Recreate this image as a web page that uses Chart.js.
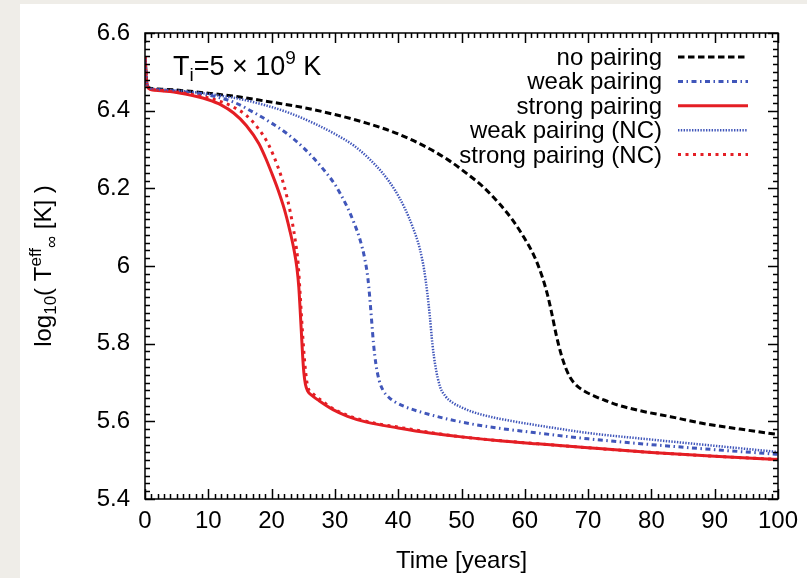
<!DOCTYPE html>
<html>
<head>
<meta charset="utf-8">
<script src="https://cdn.jsdelivr.net/npm/chart.js@4.4.1/dist/chart.umd.min.js"></script>
<style>
  html, body { margin: 0; padding: 0; background: #efede8; }
  canvas { display: block; }
</style>
</head>
<body>
<canvas id="myChart" width="807" height="578"></canvas>
<script>
// cooling curves
var noPairingTime = [0, 0.3, 0.8, 2, 5, 10, 15, 20, 25, 30, 35, 40, 44, 48, 51, 53.4, 56, 58, 60, 61.5, 62.7, 63.6, 64.3, 65, 65.7, 66.4, 67.2, 68.2, 69.5, 71, 72.5, 74.7, 78, 83, 88, 94, 100];
var noPairingTemp = [6.54, 6.47, 6.458, 6.456, 6.453, 6.445, 6.435, 6.422, 6.408, 6.39, 6.368, 6.34, 6.31, 6.272, 6.236, 6.204, 6.16, 6.12, 6.07, 6.025, 5.975, 5.925, 5.875, 5.82, 5.775, 5.74, 5.712, 5.692, 5.677, 5.665, 5.655, 5.642, 5.628, 5.612, 5.595, 5.58, 5.566];

var weakTime = [0, 0.3, 0.8, 2, 5, 10, 14, 17, 20, 22.5, 25, 27.5, 30, 31, 32, 33, 34, 34.7, 35.2, 35.5, 35.8, 36.1, 36.5, 37, 37.6, 38.5, 39.5, 41, 44, 48, 52, 56, 62, 70, 80, 90, 100];
var weakTemp = [6.54, 6.47, 6.457, 6.454, 6.45, 6.44, 6.422, 6.397, 6.368, 6.34, 6.305, 6.262, 6.21, 6.182, 6.15, 6.112, 6.066, 6.02, 5.97, 5.92, 5.86, 5.80, 5.745, 5.705, 5.68, 5.662, 5.65, 5.638, 5.622, 5.605, 5.592, 5.582, 5.57, 5.555, 5.54, 5.527, 5.515];

var strongTime = [0, 0.3, 0.8, 2, 5, 8, 10, 12, 14, 16, 18, 19, 20, 21, 22, 22.9, 23.5, 24, 24.3, 24.5, 24.7, 24.9, 25.1, 25.35, 25.7, 26.5, 27.5, 29.7, 32, 35, 40, 45, 50, 56, 62, 70, 80, 90, 100];
var strongTemp = [6.54, 6.47, 6.455, 6.452, 6.447, 6.437, 6.428, 6.415, 6.394, 6.362, 6.315, 6.28, 6.24, 6.197, 6.147, 6.09, 6.045, 5.995, 5.945, 5.89, 5.83, 5.77, 5.725, 5.695, 5.678, 5.665, 5.653, 5.63, 5.613, 5.598, 5.583, 5.57, 5.56, 5.55, 5.542, 5.532, 5.52, 5.51, 5.502];

var weakNCTime = [0, 0.3, 0.8, 2, 5, 10, 15, 19, 23, 27, 30, 33, 35.5, 37.5, 39.5, 41, 42.3, 43.4, 44.1, 44.6, 45, 45.4, 45.9, 46.6, 47.5, 48.7, 50, 51.8, 55.6, 60, 65, 70, 80, 90, 100];
var weakNCTemp = [6.54, 6.47, 6.458, 6.455, 6.452, 6.443, 6.43, 6.414, 6.393, 6.365, 6.34, 6.31, 6.275, 6.24, 6.195, 6.15, 6.10, 6.045, 5.99, 5.93, 5.87, 5.80, 5.74, 5.69, 5.664, 5.647, 5.636, 5.624, 5.608, 5.595, 5.582, 5.57, 5.553, 5.537, 5.521];

var strongNCTime = [0, 0.3, 0.8, 2, 5, 8, 10, 12, 14, 16, 18, 19.5, 21, 22, 23, 23.7, 24.2, 24.5, 24.8, 25.1, 25.4, 25.7, 26.5, 28, 30, 35, 40, 50, 60, 70, 80, 90, 100];
var strongNCTemp = [6.54, 6.47, 6.456, 6.453, 6.448, 6.44, 6.433, 6.423, 6.409, 6.388, 6.352, 6.313, 6.255, 6.205, 6.135, 6.07, 6.005, 5.93, 5.85, 5.778, 5.724, 5.69, 5.672, 5.652, 5.63, 5.6, 5.585, 5.56, 5.545, 5.532, 5.52, 5.51, 5.502];

var seriesLabels = ['no pairing', 'weak pairing', 'strong pairing', 'weak pairing (NC)', 'strong pairing (NC)'];
var yTickLabels = ['5.4', '5.6', '5.8', '6', '6.2', '6.4', '6.6'];

var FONT = '"Liberation Sans", Arial, Helvetica, sans-serif';
var red = 'rgb(228,30,36)';
var blue = 'rgb(64,86,186)';

function points(xs, ys) {
    return xs.map(function (x, i) { return { x: x, y: ys[i] }; });
}

var lineData = {
    datasets: [{
        label: seriesLabels[0],
        data: points(noPairingTime, noPairingTemp),
        borderColor: '#000',
        borderWidth: 3,
        borderDash: [6.5, 3.5],
        order: 5
    }, {
        label: seriesLabels[1],
        data: points(weakTime, weakTemp),
        borderColor: blue,
        borderWidth: 3,
        borderDash: [5, 3.5, 1.5, 3.5],
        order: 4
    }, {
        label: seriesLabels[2],
        data: points(strongTime, strongTemp),
        borderColor: red,
        borderWidth: 3,
        borderDash: [],
        order: 3
    }, {
        label: seriesLabels[3],
        data: points(weakNCTime, weakNCTemp),
        borderColor: blue,
        borderWidth: 2.5,
        borderDash: [1.4, 1.4],
        order: 2
    }, {
        label: seriesLabels[4],
        data: points(strongNCTime, strongNCTemp),
        borderColor: red,
        borderWidth: 3,
        borderDash: [3, 4.5],
        order: 1
    }]
};

// draw runs of text with sub/superscripts, starting at x, baseline y
function drawRuns(ctx, runs, x, y) {
    runs.forEach(function (r) {
        ctx.font = r[1] + 'px ' + FONT;
        ctx.fillText(r[0], x, y + r[2]);
        x += ctx.measureText(r[0]).width;
    });
    return x;
}
function runsWidth(ctx, runs) {
    var w = 0;
    runs.forEach(function (r) {
        ctx.font = r[1] + 'px ' + FONT;
        w += ctx.measureText(r[0]).width;
    });
    return w;
}

var decorPlugin = {
    id: 'decor',
    beforeDraw: function (chart) {
        var ctx = chart.ctx;
        ctx.save();
        ctx.fillStyle = '#efede8';
        ctx.fillRect(0, 0, chart.width, chart.height);
        ctx.fillStyle = '#fff';
        ctx.fillRect(20, 4, chart.width - 20, chart.height - 4);
        ctx.restore();
    },
    afterDraw: function (chart) {
        var ctx = chart.ctx, a = chart.chartArea;
        var xs = chart.scales.x, ys = chart.scales.y;
        ctx.save();
        ctx.strokeStyle = '#000';
        ctx.lineWidth = 1.5;
        ctx.setLineDash([]);
        ctx.strokeRect(a.left, a.top, a.right - a.left, a.bottom - a.top);

        // inward ticks on all four sides
        ctx.beginPath();
        for (var t = 0; t <= 100; t++) {
            var px = Math.round(xs.getPixelForValue(t)) + 0.5;
            var len = (t % 10 === 0) ? 10 : 5;
            ctx.moveTo(px, a.bottom); ctx.lineTo(px, a.bottom - len);
            ctx.moveTo(px, a.top); ctx.lineTo(px, a.top + len);
        }
        for (var i = 0; i <= 60; i++) {
            var py = Math.round(ys.getPixelForValue(5.4 + i * 0.02)) + 0.5;
            var l2 = (i % 10 === 0) ? 10 : 5;
            ctx.moveTo(a.left, py); ctx.lineTo(a.left + l2, py);
            ctx.moveTo(a.right, py); ctx.lineTo(a.right - l2, py);
        }
        ctx.stroke();

        ctx.fillStyle = '#000';
        ctx.textBaseline = 'alphabetic';
        ctx.textAlign = 'left';

        // x title
        ctx.font = '24px ' + FONT;
        ctx.textAlign = 'center';
        ctx.fillText('Time [years]', (a.left + a.right) / 2, 568);
        ctx.textAlign = 'left';

        // y title, rotated
        var yRuns = [['log', 24, 0], ['10', 17, 5], ['( T', 24, 0], ['eff', 17, -10], ['\u221E', 17, 6], [' [K] )', 24, 0]];
        ctx.save();
        ctx.translate(51, (a.top + a.bottom) / 2);
        ctx.rotate(-Math.PI / 2);
        drawRuns(ctx, yRuns, -runsWidth(ctx, yRuns) / 2, 0);
        ctx.restore();

        // annotation
        drawRuns(ctx, [['T', 27, 0], ['i', 19, 6], ['=5 \u00D7 10', 27, 0], ['9', 19, -11], [' K', 27, 0]], 173, 75);

        // legend, text right-aligned with the sample to its right
        ctx.font = '24px ' + FONT;
        ctx.textAlign = 'right';
        chart.data.datasets.forEach(function (ds, k) {
            var ly = 57 + k * 24.4;
            ctx.fillStyle = '#000';
            ctx.fillText(ds.label, 662, ly + 8);
            ctx.beginPath();
            ctx.strokeStyle = ds.borderColor;
            ctx.lineWidth = ds.borderWidth;
            ctx.setLineDash(ds.borderDash);
            ctx.moveTo(678, ly);
            ctx.lineTo(748, ly);
            ctx.stroke();
        });
        ctx.restore();
    }
};

var chart = new Chart(document.getElementById('myChart').getContext('2d'), {
    type: 'line',
    data: lineData,
    plugins: [decorPlugin],
    options: {
        responsive: false,
        animation: false,
        devicePixelRatio: 1,
        layout: { padding: { top: 33, right: 29, left: 0, bottom: 0 } },
        elements: {
            point: { radius: 0 },
            line: { cubicInterpolationMode: 'monotone', fill: false }
        },
        plugins: {
            legend: { display: false },
            title: { display: false },
            tooltip: { enabled: false }
        },
        scales: {
            x: {
                type: 'linear',
                min: 0,
                max: 100,
                grid: { display: false, drawTicks: false },
                border: { display: false },
                ticks: { stepSize: 10, padding: 8, color: '#000', maxRotation: 0, font: { family: FONT, size: 24 } },
                afterFit: function (scale) { scale.height = 79; }
            },
            y: {
                min: 5.4,
                max: 6.6,
                grid: { display: false, drawTicks: false },
                border: { display: false },
                ticks: {
                    stepSize: 0.2,
                    padding: 15,
                    color: '#000',
                    font: { family: FONT, size: 24 },
                    callback: function (v) {
                        var k = Math.round((v - 5.4) / 0.2);
                        return yTickLabels[k];
                    }
                },
                afterFit: function (scale) { scale.width = 145; }
            }
        }
    }
});
</script>
</body>
</html>
